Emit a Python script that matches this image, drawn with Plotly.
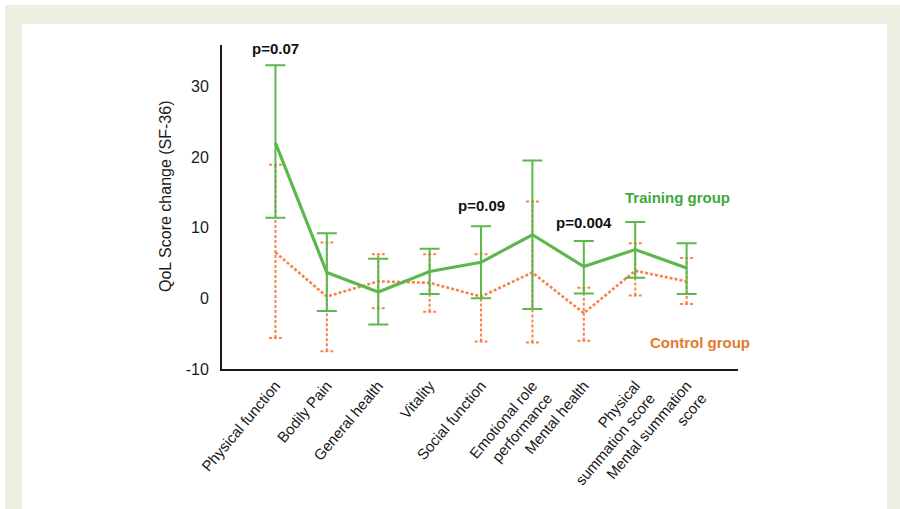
import plotly.graph_objects as go

# SF-36 domains
categories = [
    "Physical function", "Bodily Pain", "General health", "Vitality",
    "Social function", "Emotional role<br>performance", "Mental health",
    "Physical<br>summation score", "Mental summation<br>score",
]

# Training group: mean change and error bar ends
train_mean = [22.0, 3.65, 0.9, 3.8, 5.1, 9.0, 4.5, 6.9, 4.3]
train_upper = [33.0, 9.2, 5.6, 7.0, 10.2, 19.5, 8.1, 10.8, 7.8]
train_lower = [11.4, -1.8, -3.7, 0.6, 0.0, -1.5, 0.7, 2.9, 0.6]

# Control group: mean change and error bar ends
ctrl_mean = [6.5, 0.25, 2.4, 2.2, 0.25, 3.65, -2.1, 3.9, 2.4]
ctrl_upper = [18.9, 7.9, 6.25, 6.25, 6.25, 13.7, 1.5, 7.8, 5.7]
ctrl_lower = [-5.6, -7.5, -1.4, -1.9, -6.1, -6.25, -6.0, 0.4, -0.8]

y_ticks = [-10, 0, 10, 20, 30]
y_tick_text = ["-10", "0", "10", "20", "30"]

# p-value labels: (category index, y position, text)
p_labels = [(0, 35.4, "p=0.07"), (4, 13.1, "p=0.09"), (6, 10.8, "p=0.004")]

GREEN = "#5cb84c"
GREEN_TEXT = "#3fa83a"
ORANGE = "#f5834a"
ORANGE_TEXT = "#e27a2e"
FONT = "Liberation Sans, Arial, sans-serif"

xs = list(range(len(categories)))

# figure geometry (pixels)
W, H = 900, 509
ML, MR, MT, MB = 222, 162, 45, 140
PW, PH = W - ML - MR, H - MT - MB


def px_x(px):
    return (px - ML) / PW


def px_y(py):
    return (H - MB - py) / PH


fig = go.Figure()

# dotted control-group error bars with dotted caps
cap = 0.125
ex, ey = [], []
for x, lo, hi in zip(xs, ctrl_lower, ctrl_upper):
    ex += [x, x, None]
    ey += [lo, hi, None]
    for v in (lo, hi):
        ex += [x - cap, x + cap, None]
        ey += [v, v, None]
fig.add_trace(go.Scatter(
    x=ex, y=ey, mode="lines", hoverinfo="skip", showlegend=False,
    line=dict(color=ORANGE, width=2, dash="3px,2px"),
))

# control-group mean line
fig.add_trace(go.Scatter(
    x=xs, y=ctrl_mean, mode="lines", name="Control group", showlegend=False,
    line=dict(color=ORANGE, width=2.6, dash="3px,2px"),
))

# training-group mean line with error bars
fig.add_trace(go.Scatter(
    x=xs, y=train_mean, mode="lines", name="Training group", showlegend=False,
    line=dict(color=GREEN, width=3.2),
    error_y=dict(
        type="data", symmetric=False,
        array=[u - m for u, m in zip(train_upper, train_mean)],
        arrayminus=[m - l for l, m in zip(train_lower, train_mean)],
        color=GREEN, thickness=2, width=10,
    ),
))

annotations = []
for i, yv, txt in p_labels:
    annotations.append(dict(
        x=i, y=yv, xref="x", yref="y", text=f"<b>{txt}</b>", showarrow=False,
        font=dict(family=FONT, size=15, color="#111111"),
        xanchor="center", yanchor="middle",
    ))
annotations.append(dict(
    x=7.82, y=14.2, xref="x", yref="y", text="<b>Training group</b>",
    showarrow=False, font=dict(family=FONT, size=15, color=GREEN_TEXT),
    xanchor="center", yanchor="middle",
))
annotations.append(dict(
    x=8.26, y=-6.3, xref="x", yref="y", text="<b>Control group</b>",
    showarrow=False, font=dict(family=FONT, size=15, color=ORANGE_TEXT),
    xanchor="center", yanchor="middle",
))
annotations.append(dict(
    x=px_x(165), y=px_y(196), xref="paper", yref="paper",
    text="QoL Score change (SF-36)", textangle=-90, showarrow=False,
    font=dict(family=FONT, size=16, color="#1a1a1a"),
    xanchor="center", yanchor="middle",
))

shapes = [
    # beige frame
    dict(type="rect", xref="paper", yref="paper", layer="below",
         x0=px_x(5), x1=px_x(900), y0=px_y(509), y1=px_y(5),
         fillcolor="#efeee3", line=dict(width=0)),
    # white panel
    dict(type="rect", xref="paper", yref="paper", layer="below",
         x0=px_x(22), x1=px_x(887), y0=px_y(509), y1=px_y(24),
         fillcolor="#ffffff", line=dict(width=0)),
]

fig.update_layout(
    width=W, height=H,
    margin=dict(l=ML, r=MR, t=MT, b=MB, pad=0),
    paper_bgcolor="#ffffff", plot_bgcolor="rgba(0,0,0,0)",
    font=dict(family=FONT, size=14, color="#1a1a1a"),
    annotations=annotations, shapes=shapes, showlegend=False,
)
fig.update_xaxes(
    range=[-1.04, 9.0], tickvals=xs, ticktext=categories, tickangle=-50,
    showline=True, linecolor="#1a1a1a", linewidth=2, ticks="",
    showgrid=False, zeroline=False, tickfont=dict(size=15, color="#1a1a1a"),
)
fig.update_yaxes(
    range=[-10, 35.85], tickvals=y_ticks, ticktext=y_tick_text,
    showline=True, linecolor="#1a1a1a",
    linewidth=2, ticks="", showgrid=False, zeroline=False,
    ticklabelstandoff=8, tickfont=dict(size=16, color="#1a1a1a"),
)

fig.write_html("out.html")
